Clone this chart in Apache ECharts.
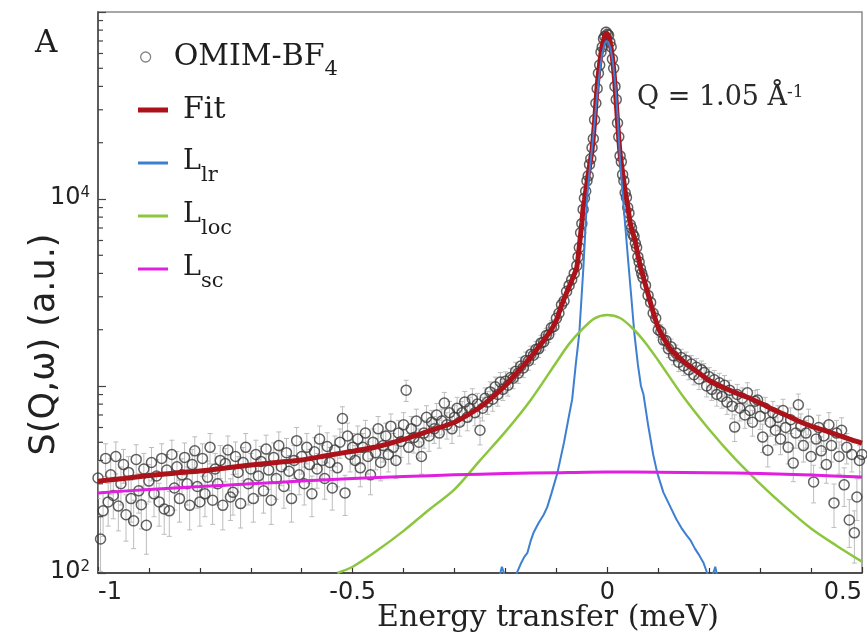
<!DOCTYPE html>
<html>
<head>
<meta charset="utf-8">
<script src="https://cdn.jsdelivr.net/npm/echarts@6/dist/echarts.min.js"></script>
<style>html,body{margin:0;padding:0;background:#fff}#c{width:867px;height:643px}</style>
</head>
<body>
<div id="c"></div>
<script>
// ---------- data ----------
const xMin = -1, xMax = 0.5, xInterval = 0.5;
const yMin = 100, yMax = 100000;
const yLabelValues = [100, 10000];
const yLabelExponents = ['2', '4'];
const yMinorTicks = [200,300,400,500,600,700,800,900,2000,3000,4000,5000,6000,7000,8000,9000,20000,30000,40000,50000,60000,70000,80000,90000];

const seriesNames = ['OMIM-BF4', 'Fit', 'Llr', 'Lloc', 'Lsc'];
const legendMain = ['OMIM-BF', 'Fit', 'L', 'L', 'L'];
const legendSub = ['4', '', 'lr', 'loc', 'sc'];

// measured points: [energy (meV), S(Q,w), error]
const dataPoints = [
[-1.000,322,72],[-0.995,152,50],[-0.990,215,58],[-0.985,410,81],[-0.980,240,62],[-0.975,335,73],[-0.970,260,65],[-0.965,420,82],[-0.960,228,60],[-0.955,300,69],
[-0.950,380,78],[-0.945,205,57],[-0.940,345,74],[-0.935,250,63],[-0.930,190,55],[-0.925,405,80],[-0.920,275,66],[-0.915,232,60],[-0.910,360,76],[-0.905,180,54],
[-0.900,310,70],[-0.895,390,79],[-0.890,265,65],[-0.885,330,73],[-0.880,240,62],[-0.875,410,81],[-0.870,220,59],[-0.865,355,75],[-0.860,215,58],[-0.855,430,83],
[-0.850,285,68],[-0.845,370,77],[-0.840,250,63],[-0.835,335,73],[-0.830,415,81],[-0.825,300,69],[-0.820,230,60],[-0.815,380,78],[-0.810,450,85],[-0.805,290,68],
[-0.800,240,62],[-0.795,410,81],[-0.790,265,65],[-0.785,325,72],[-0.780,470,87],[-0.775,245,63],[-0.770,360,76],[-0.765,300,69],[-0.760,400,80],[-0.755,230,60],
[-0.750,385,78],[-0.745,455,85],[-0.740,255,64],[-0.735,270,66],[-0.730,420,82],[-0.725,345,74],[-0.720,235,61],[-0.715,390,79],[-0.710,470,87],[-0.705,300,69],
[-0.700,360,76],[-0.695,250,63],[-0.690,430,83],[-0.685,330,73],[-0.680,395,80],[-0.675,275,66],[-0.670,460,86],[-0.665,355,75],[-0.660,245,63],[-0.655,415,81],
[-0.650,320,72],[-0.645,480,88],[-0.640,370,77],[-0.635,290,68],[-0.630,440,84],[-0.625,350,75],[-0.620,250,63],[-0.615,400,80],[-0.610,510,90],[-0.605,335,73],
[-0.600,420,82],[-0.595,300,69],[-0.590,470,87],[-0.585,380,78],[-0.580,265,65],[-0.575,445,84],[-0.570,360,76],[-0.565,520,91],[-0.560,400,80],[-0.555,320,72],
[-0.550,475,87],[-0.545,390,79],[-0.540,285,68],[-0.535,455,85],[-0.530,365,76],[-0.525,500,89],[-0.520,670,104],[-0.515,268,65],[-0.510,540,93],[-0.505,430,83],
[-0.500,470,87],[-0.495,400,80],[-0.490,520,91],[-0.485,365,76],[-0.480,470,87],[-0.475,560,95],[-0.470,420,82],[-0.465,335,73],[-0.460,500,89],[-0.455,440,84],
[-0.450,590,97],[-0.445,390,79],[-0.440,480,88],[-0.435,540,93],[-0.430,430,83],[-0.425,610,99],[-0.420,470,87],[-0.415,400,80],[-0.410,560,95],[-0.405,505,90],
[-0.400,620,100],[-0.395,950,123],[-0.390,470,87],[-0.385,590,97],[-0.380,530,92],[-0.375,650,102],[-0.370,500,89],[-0.365,420,82],[-0.360,560,95],[-0.355,680,104],
[-0.350,540,93],[-0.345,640,101],[-0.340,590,97],[-0.335,700,106],[-0.330,560,95],[-0.325,650,102],[-0.320,810,114],[-0.315,620,100],[-0.310,720,107],[-0.305,590,97],
[-0.300,680,104],[-0.295,760,110],[-0.290,640,101],[-0.285,720,107],[-0.280,820,115],[-0.275,680,104],[-0.270,760,110],[-0.265,850,117],[-0.260,720,107],[-0.255,800,113],
[-0.250,580,96],[-0.245,760,110],[-0.240,860,117],[-0.235,820,115],[-0.230,930,122],[-0.225,850,117],[-0.220,990,126],[-0.215,900,120],[-0.210,1050,130],[-0.205,960,124],
[-0.200,1060,130],[-0.195,1010,127],[-0.190,1110,133],[-0.185,1100,133],[-0.180,1200,139],[-0.175,1170,137],[-0.170,1280,143],[-0.165,1250,141],[-0.160,1370,148],[-0.155,1360,147],
[-0.150,1480,154],[-0.145,1460,153],[-0.140,1570,158],[-0.135,1580,159],[-0.130,1700,165],[-0.125,1720,166],[-0.120,1860,172],[-0.115,1880,173],[-0.110,2050,181],[-0.105,2080,182],
[-0.100,2300,192],[-0.095,2450,198],[-0.090,2720,209],[-0.085,2850,214],[-0.080,3200,226],[-0.075,3450,235],[-0.070,3700,243],[-0.065,4000,253],[-0.060,4400,265],[-0.0575,4900,280],
[-0.055,5500,297],[-0.0525,6600,325],[-0.050,7400,344],[-0.0475,8800,375],[-0.045,10100,402],[-0.0425,11000,420],[-0.040,12500,447],[-0.0375,13300,461],[-0.035,15300,495],[-0.0325,16400,512],
[-0.030,18800,548],[-0.0275,21000,580],[-0.025,26500,651],[-0.0225,32500,721],[-0.020,39000,790],[-0.0175,47000,867],[-0.015,52000,912],[-0.0125,61000,988],[-0.010,65000,1020],[-0.0075,72000,1073],
[-0.005,74000,1088],[-0.0025,78000,5000],[0.000,76000,4000],[0.0025,75000,1095],[0.005,69000,1051],[0.0075,65000,1020],[0.010,56000,947],[0.0125,50000,894],[0.015,40000,800],[0.0175,34000,738],
[0.020,25500,639],[0.0225,21500,587],[0.025,17000,522],[0.0275,15800,503],[0.030,13500,465],[0.0325,12500,447],[0.035,10800,416],[0.0375,10200,404],[0.040,9000,379],[0.0425,8400,367],
[0.045,7300,342],[0.0475,7000,335],[0.050,6500,322],[0.0525,6300,317],[0.055,5800,305],[0.0575,5500,297],[0.060,4900,280],[0.0625,4600,271],[0.065,4250,261],[0.0675,4000,253],
[0.070,3800,247],[0.075,3450,235],[0.080,3050,221],[0.085,2800,212],[0.090,2450,198],[0.095,2300,192],[0.100,2000,179],[0.105,1950,177],[0.110,1760,168],[0.115,1750,167],
[0.120,1580,159],[0.125,1620,161],[0.130,1450,152],[0.135,1500,155],[0.140,1340,146],[0.145,1420,151],[0.150,1280,143],[0.155,1370,148],[0.160,1220,140],[0.165,1310,145],
[0.170,1150,136],[0.175,1260,142],[0.180,1090,132],[0.185,1220,140],[0.190,1180,137],[0.195,1000,126],[0.200,1120,134],[0.205,960,124],[0.210,1080,131],[0.215,900,120],
[0.220,1040,129],[0.225,880,119],[0.230,1010,127],[0.235,820,115],[0.240,950,123],[0.245,780,112],[0.250,603,98],[0.255,900,120],[0.260,760,110],[0.265,860,117],
[0.270,700,106],[0.275,920,121],[0.280,740,109],[0.285,640,101],[0.290,830,115],[0.295,842,116],[0.300,690,105],[0.305,533,92],[0.310,760,110],[0.315,454,85],
[0.320,640,101],[0.325,720,107],[0.330,580,96],[0.335,680,104],[0.340,520,91],[0.345,740,109],[0.350,600,98],[0.355,470,87],[0.360,660,103],[0.365,387,79],
[0.370,560,95],[0.375,793,113],[0.380,610,99],[0.385,480,88],[0.390,560,95],[0.395,650,102],[0.400,420,82],[0.405,307,70],[0.410,520,91],[0.415,600,98],
[0.420,450,85],[0.425,540,93],[0.430,380,78],[0.435,620,100],[0.440,480,88],[0.445,237,62],[0.450,560,95],[0.455,420,82],[0.460,580,96],[0.465,296,69],
[0.470,470,87],[0.475,192,55],[0.480,430,83],[0.485,164,51],[0.490,255,64],[0.495,400,80],[0.500,430,83]
];

const fitCurve = [
[-1.0,310],[-0.95,320],[-0.9,332],[-0.85,342],[-0.8,351],[-0.75,364],[-0.7,378],[-0.65,390],[-0.6,402],[-0.55,425],
[-0.5,448],[-0.45,475],[-0.4,518],[-0.35,575],[-0.3,640],[-0.25,770],[-0.21,950],[-0.2,1010],[-0.19,1080],[-0.18,1160],
[-0.17,1240],[-0.16,1330],[-0.15,1430],[-0.14,1550],[-0.13,1680],[-0.12,1830],[-0.11,2000],[-0.1,2250],[-0.09,2700],[-0.08,3150],
[-0.07,3660],[-0.065,3950],[-0.06,4300],[-0.055,5600],[-0.05,7500],[-0.0475,9000],[-0.045,9900],[-0.04,12200],[-0.035,15000],[-0.03,18300],
[-0.025,26000],[-0.02,40000],[-0.015,53000],[-0.01,66000],[-0.005,75000],[-0.0025,77000],[0,76500],[0.0025,74000],[0.005,70000],[0.01,57000],
[0.015,41000],[0.02,26000],[0.025,17500],[0.03,13800],[0.035,11000],[0.04,9200],[0.045,7400],[0.05,6600],[0.055,5900],[0.06,5000],
[0.065,4330],[0.07,3870],[0.08,3100],[0.09,2480],[0.1,2050],[0.11,1820],[0.125,1560],[0.15,1350],[0.175,1200],[0.2,1070],
[0.225,990],[0.25,925],[0.275,870],[0.3,810],[0.325,750],[0.35,700],[0.375,650],[0.4,610],[0.425,580],[0.45,550],[0.475,520],[0.5,495]
];

const lrCurve = [
[-0.22,80],[-0.212,95],[-0.207,108],[-0.203,100],[-0.198,85],[-0.19,80],[-0.182,92],[-0.177,101],[-0.17,112],[-0.163,122],
[-0.157,128],[-0.15,150],[-0.145,164],[-0.135,185],[-0.125,205],[-0.118,225],[-0.11,265],[-0.098,343],[-0.085,500],[-0.075,700],
[-0.069,850],[-0.062,1300],[-0.055,1920],[-0.047,4300],[-0.04,9900],[-0.035,14000],[-0.029,19900],[-0.02,36000],[-0.015,48000],[-0.01,60000],
[-0.005,68000],[-0.002,70000],[0.002,69000],[0.006,64000],[0.01,56000],[0.015,43000],[0.02,28000],[0.025,16000],[0.031,9900],[0.04,5000],
[0.047,3000],[0.053,1920],[0.06,1300],[0.066,1000],[0.071,900],[0.08,620],[0.09,430],[0.098,343],[0.11,270],[0.124,225],
[0.135,195],[0.145,175],[0.155,160],[0.163,150],[0.172,135],[0.18,125],[0.189,113],[0.196,100],[0.203,92],[0.208,100],
[0.212,108],[0.216,95],[0.222,80]
];

const locCurve = [
[-0.53,100],[-0.5,108],[-0.45,133],[-0.4,168],[-0.35,218],[-0.3,280],[-0.25,400],[-0.2,570],[-0.15,845],[-0.1,1340],
[-0.075,1680],[-0.05,2000],[-0.025,2300],[0,2400],[0.025,2310],[0.05,2030],[0.075,1700],[0.1,1370],[0.15,870],[0.2,585],
[0.25,410],[0.3,300],[0.35,225],[0.4,173],[0.45,140],[0.5,115]
];

const scCurve = [
[-1,268],[-0.9,280],[-0.8,290],[-0.7,300],[-0.6,310],[-0.5,320],[-0.4,328],[-0.3,335],[-0.2,340],[-0.1,344],
[0,347],[0.1,346],[0.2,344],[0.3,340],[0.4,334],[0.5,326]
];

// ---------- chart ----------
const serif = 'DejaVu Serif';
const sans = 'DejaVu Sans';
const ink = '#1e1e1e';
const colors = { data: '#3a3a3a', fit: '#ac1219', lr: '#3d7fd1', loc: '#8cc63e', sc: '#e01fe0' };

const legendRich = {
  n: { fontFamily: serif, fontSize: 30, lineHeight: 30, padding: [0, 0, 10, 0], verticalAlign: 'top', color: ink },
  L: { fontFamily: serif, fontSize: 27, lineHeight: 30, padding: [0, 0, 10, 0], verticalAlign: 'top', color: ink },
  s: { fontFamily: serif, fontSize: 21, lineHeight: 21, padding: [17, 0, 2, 0], verticalAlign: 'top', color: ink }
};
function legendFormatter(name) {
  const i = seriesNames.indexOf(name);
  const main = legendMain[i], sub = legendSub[i];
  const style = main === 'L' ? 'L' : 'n';
  return '{' + style + '|' + main + '}' + (sub ? '{s|' + sub + '}' : '');
}

const chart = echarts.init(document.getElementById('c'), null, { renderer: 'canvas' });

chart.setOption({
  animation: false,
  backgroundColor: '#fff',
  title: [
    { text: 'A', left: 35, top: 28, padding: 0,
      textStyle: { fontFamily: serif, fontSize: 31, fontWeight: 'normal', color: ink } },
    { text: '{a|Q = 1.05 Å}{s|-1}', left: 637, top: 84, padding: 0,
      textStyle: { fontWeight: 'normal', rich: {
        a: { fontFamily: serif, fontSize: 27, fontWeight: 'normal', lineHeight: 30, verticalAlign: 'top', color: '#2a2a2a' },
        s: { fontFamily: serif, fontSize: 17, fontWeight: 'normal', lineHeight: 17, verticalAlign: 'top', color: '#2a2a2a' } } } }
  ],
  legend: [
    { orient: 'vertical', left: 135, top: 37, itemWidth: 30, itemHeight: 10, selectedMode: false,
      data: [{ name: seriesNames[0], icon: 'circle', itemStyle: { color: '#fff', borderColor: '#666', borderWidth: 1.3 } }],
      formatter: legendFormatter, textStyle: { rich: legendRich, padding: [0, 0, 0, 8] } },
    { orient: 'vertical', left: 133, top: 90, itemWidth: 30, itemHeight: 14, itemGap: 13, selectedMode: false,
      data: [
        { name: seriesNames[1], icon: 'path://M0,0H30V5H0Z', itemStyle: { color: colors.fit, borderWidth: 0 } },
        { name: seriesNames[2], icon: 'path://M0,0H30V3H0Z', itemStyle: { color: colors.lr, borderWidth: 0 } },
        { name: seriesNames[3], icon: 'path://M0,0H30V3H0Z', itemStyle: { color: colors.loc, borderWidth: 0 } },
        { name: seriesNames[4], icon: 'path://M0,0H30V3H0Z', itemStyle: { color: colors.sc, borderWidth: 0 } }
      ],
      formatter: legendFormatter, textStyle: { rich: legendRich, padding: [0, 0, 0, 10] } }
  ],
  grid: { left: 98, right: 5, top: 12, bottom: 70, show: true, borderColor: '#8a8a8a', borderWidth: 1.5, backgroundColor: 'transparent' },
  xAxis: {
    type: 'value', min: xMin, max: xMax, interval: xInterval,
    axisLine: { onZero: false, lineStyle: { color: '#333', width: 1.5 } },
    axisTick: { inside: true, length: 6, lineStyle: { color: '#333', width: 1.2 } },
    minorTick: { show: true, splitNumber: 5, length: 5, lineStyle: { color: '#333', width: 1.2 } },
    splitLine: { show: false }, minorSplitLine: { show: false },
    axisLabel: { fontFamily: sans, fontSize: 24, color: '#222', margin: 8, alignMinLabel: 'left', alignMaxLabel: 'right' },
    name: 'Energy transfer (meV)', nameLocation: 'middle', nameGap: 30, nameMoveOverlap: false,
    nameTextStyle: { fontFamily: serif, fontSize: 30, color: '#222', padding: [0, 0, 0, 136] }
  },
  yAxis: {
    type: 'log', logBase: 10, min: yMin, max: yMax,
    axisLine: { show: true, onZero: false, lineStyle: { color: '#444', width: 1.5 } },
    axisTick: { show: true, inside: true, length: 8, lineStyle: { color: '#444', width: 1.2 } },
    splitLine: { show: false },
    axisLabel: {
      margin: 8,
      formatter: function (v) {
        const i = yLabelValues.findIndex(function (t) { return Math.abs(t - v) / t < 1e-6; });
        return i < 0 ? '' : '{b|10}{s|' + yLabelExponents[i] + '}';
      },
      rich: {
        b: { fontFamily: sans, fontSize: 24, lineHeight: 26, verticalAlign: 'top', color: '#222' },
        s: { fontFamily: sans, fontSize: 15, lineHeight: 15, verticalAlign: 'top', color: '#222' }
      }
    },
    name: 'S(Q,ω) (a.u.)', nameLocation: 'middle', nameRotate: 90, nameGap: 36, nameMoveOverlap: false,
    nameTextStyle: { fontFamily: sans, fontSize: 35, color: '#222', padding: [0, 104, 0, 0] }
  },
  series: [
    { name: 'errorBars', type: 'custom', silent: true, z: 2, clip: true,
      dimensions: ['E', 'S', 'err'], encode: { x: 0, y: 1 },
      data: dataPoints,
      renderItem: function (params, api) {
        const x = api.value(0), y = api.value(1), e = api.value(2);
        const hi = api.coord([x, y + e]);
        const lo = api.coord([x, y - e]);
        const st = { stroke: '#bdbdbd', lineWidth: 1 };
        const w = 2.5;
        return { type: 'group', children: [
          { type: 'line', shape: { x1: hi[0], y1: hi[1], x2: lo[0], y2: lo[1] }, style: st },
          { type: 'line', shape: { x1: hi[0] - w, y1: hi[1], x2: hi[0] + w, y2: hi[1] }, style: st },
          { type: 'line', shape: { x1: lo[0] - w, y1: lo[1], x2: lo[0] + w, y2: lo[1] }, style: st }
        ] };
      }
    },
    { name: seriesNames[0], type: 'scatter', silent: true, z: 3,
      data: dataPoints.map(function (d) { return [d[0], d[1]]; }),
      symbol: 'circle', symbolSize: 10,
      itemStyle: { color: 'rgba(255,255,255,0)', borderColor: colors.data, borderWidth: 1.5 } },
    { name: seriesNames[1], type: 'line', data: fitCurve, symbol: 'none', showSymbol: false, smooth: 0.2,
      lineStyle: { color: colors.fit, width: 5 }, itemStyle: { color: colors.fit }, z: 4, silent: true },
    { name: seriesNames[2], type: 'line', data: lrCurve, symbol: 'none', showSymbol: false,
      lineStyle: { color: colors.lr, width: 2 }, itemStyle: { color: colors.lr }, z: 5, silent: true },
    { name: seriesNames[3], type: 'line', data: locCurve, symbol: 'none', showSymbol: false, smooth: 0.3,
      lineStyle: { color: colors.loc, width: 2.5 }, itemStyle: { color: colors.loc }, z: 5, silent: true },
    { name: seriesNames[4], type: 'line', data: scCurve, symbol: 'none', showSymbol: false, smooth: 0.3,
      lineStyle: { color: colors.sc, width: 3 }, itemStyle: { color: colors.sc }, z: 5, silent: true },
    { name: 'yMinorTicks', type: 'custom', silent: true, z: 6, clip: false,
      encode: { x: 0, y: 1 },
      data: yMinorTicks.map(function (v) { return [xMin, v]; }),
      renderItem: function (params, api) {
        const p = api.coord([api.value(0), api.value(1)]);
        return { type: 'line', shape: { x1: p[0], y1: p[1], x2: p[0] + 5, y2: p[1] },
                 style: { stroke: '#444', lineWidth: 1.2 } };
      }
    }
  ]
});
</script>
</body>
</html>
